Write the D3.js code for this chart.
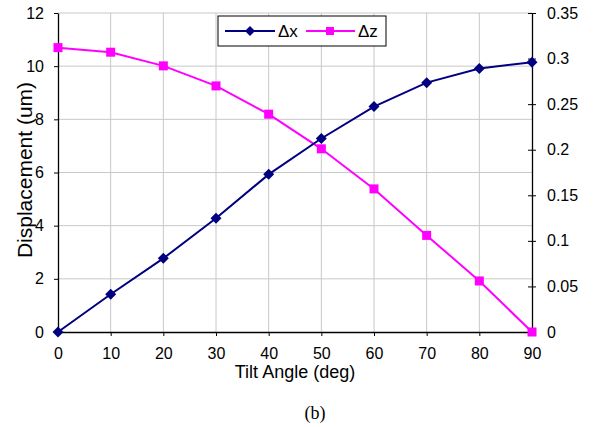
<!DOCTYPE html>
<html>
<head>
<meta charset="utf-8">
<script src="https://cdn.jsdelivr.net/npm/d3@7"></script>
<style>
  body { margin: 0; background: #fff; }
  text { font-family: "Liberation Sans", Arial, sans-serif; }
</style>
</head>
<body>
<div id="graphicContainer"></div>
<script>
const angles = [0, 10, 20, 30, 40, 50, 60, 70, 80, 90]
const dx = [0, 1.42, 2.77, 4.28, 5.93, 7.28, 8.48, 9.38, 9.91, 10.15]
const dz = [0.312, 0.307, 0.292, 0.270, 0.239, 0.201, 0.157, 0.106, 0.056, 0]
const leftTicks = [0, 2, 4, 6, 8, 10, 12]
const rightTicks = [0, 0.05, 0.1, 0.15, 0.2, 0.25, 0.3, 0.35]

const marginleft = 58, margintop = 13, marginright = 65, marginbottom = 95
const totalW = 597, totalH = 427
const width = totalW - marginleft - marginright
const height = totalH - margintop - marginbottom

const svg = d3.select("#graphicContainer")
  .append("svg")
  .attr("width", totalW)
  .attr("height", totalH)

const features = svg.append("g")
  .attr("transform", "translate(" + marginleft + "," + margintop + ")")

const x = d3.scaleLinear().domain([0, 90]).range([0, width])
const yL = d3.scaleLinear().domain([0, 12]).range([height, 0])
const yR = d3.scaleLinear().domain([0, 0.35]).range([height, 0])

// grid
features.append("g")
  .selectAll("line.v")
  .data(angles.filter(d => d > 0 && d < 90))
  .enter().append("line")
  .attr("x1", d => x(d)).attr("x2", d => x(d))
  .attr("y1", 0).attr("y2", height)
  .style("stroke", "#c8c8c8")

features.append("g")
  .selectAll("line.h")
  .data(leftTicks.filter(d => d > 0))
  .enter().append("line")
  .attr("x1", 0).attr("x2", width)
  .attr("y1", d => yL(d)).attr("y2", d => yL(d))
  .style("stroke", "#c8c8c8")

// axes
features.append("g")
  .attr("transform", "translate(0," + height + ")")
  .call(d3.axisBottom(x).tickValues(angles).tickSizeInner(4).tickSizeOuter(0).tickPadding(12))

features.append("g")
  .call(d3.axisLeft(yL).tickValues(leftTicks).tickSizeInner(4).tickSizeOuter(0).tickPadding(10))

const yAxisR = features.append("g")
  .attr("transform", "translate(" + width + ",0)")
  .call(d3.axisRight(yR).tickValues(rightTicks).tickFormat(d => d3.format("")(+d.toFixed(2))).tickSizeInner(4).tickSizeOuter(0).tickPadding(11))

yAxisR.selectAll(".tick line").attr("x1", -4)

features.selectAll(".domain").style("stroke", "#000").style("stroke-width", 1.3)
features.selectAll(".tick line").style("stroke", "#000")
features.selectAll(".tick text")
  .style("font-size", "16px")
  .style("font-family", "'Liberation Sans', Arial, sans-serif")
  .attr("fill", "#000")

// series
const lineX = d3.line().x((d, i) => x(angles[i])).y(d => yL(d))
const lineZ = d3.line().x((d, i) => x(angles[i])).y(d => yR(d))

features.append("path")
  .datum(dz)
  .attr("d", lineZ)
  .attr("fill", "none")
  .attr("stroke", "#ff00ff")
  .attr("stroke-width", 2)

features.append("path")
  .datum(dx)
  .attr("d", lineX)
  .attr("fill", "none")
  .attr("stroke", "#000080")
  .attr("stroke-width", 2)

features.selectAll("rect.mz")
  .data(dz)
  .enter().append("rect")
  .attr("x", (d, i) => x(angles[i]) - 4.5)
  .attr("y", d => yR(d) - 4.5)
  .attr("width", 9).attr("height", 9)
  .attr("fill", "#ff00ff")

features.selectAll("path.mx")
  .data(dx)
  .enter().append("path")
  .attr("d", "M0,-5.5L5.5,0L0,5.5L-5.5,0Z")
  .attr("transform", (d, i) => "translate(" + x(angles[i]) + "," + yL(d) + ")")
  .attr("fill", "#000080")

// legend
const legend = svg.append("g").attr("transform", "translate(218,16)")
legend.append("rect")
  .attr("width", 168).attr("height", 30)
  .attr("fill", "#fff").attr("stroke", "#000").attr("stroke-width", 1)

legend.append("line").attr("x1", 7).attr("x2", 57).attr("y1", 15).attr("y2", 15)
  .attr("stroke", "#000080").attr("stroke-width", 2)
legend.append("path").attr("d", "M0,-5L5,0L0,5L-5,0Z")
  .attr("transform", "translate(32,15)").attr("fill", "#000080")
legend.append("text").attr("x", 60).attr("y", 21).style("font-size", "17px").text("Δx")

legend.append("line").attr("x1", 88).attr("x2", 137).attr("y1", 15).attr("y2", 15)
  .attr("stroke", "#ff00ff").attr("stroke-width", 2)
legend.append("rect").attr("x", 108).attr("y", 11).attr("width", 8).attr("height", 8)
  .attr("fill", "#ff00ff")
legend.append("text").attr("x", 140).attr("y", 21).style("font-size", "17px").text("Δz")

// axis labels
svg.append("text")
  .attr("transform", "translate(32,170) rotate(-90)")
  .attr("text-anchor", "middle")
  .style("font-size", "21px")
  .text("Displacement (um)")

svg.append("text")
  .attr("x", marginleft + width / 2)
  .attr("y", 378)
  .attr("text-anchor", "middle")
  .style("font-size", "18px")
  .text("Tilt Angle (deg)")

svg.append("text")
  .attr("x", marginleft + width / 2 + 20)
  .attr("y", 419)
  .attr("text-anchor", "middle")
  .style("font-size", "18px")
  .style("font-family", "'Liberation Serif', 'Times New Roman', serif")
  .text("(b)")
</script>
</body>
</html>
